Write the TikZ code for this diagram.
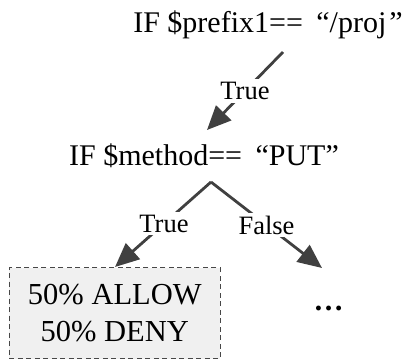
\documentclass[tikz,border=0pt]{standalone}
\usepackage{fontspec}
\setmainfont{Liberation Serif}
\usetikzlibrary{arrows.meta}
\begin{document}
\begin{tikzpicture}[x=1pt,y=-1pt,
  cond/.style={inner sep=0pt, anchor=base, font=\fontsize{30}{36}\selectfont},
  lbl/.style={inner sep=3pt, fill=white, font=\fontsize{26.5}{30}\selectfont},
  branch/.style={draw=black!75, line width=2.8pt},
  arr/.style={branch, -{Triangle[length=24pt,width=21pt]}},
  leaf/.style={draw=black!72, dash pattern=on 5pt off 3.5pt, line width=1pt,
    fill=black!6, minimum width=211pt, minimum height=91pt, align=center,
    font=\fontsize{30.5}{37}\selectfont}]
\useasboundingbox (0,0) rectangle (410,360);
% condition nodes
\node[cond] (c1) at (268,32) {IF \$prefix1==\hspace{0.45em}“/proj\hspace{0.1em}”};
\node[cond] (c2) at (204,165) {IF \$method==\hspace{0.45em}“PUT”};
% leaves
\node[leaf] (l1) at (114.8,313) {50\% ALLOW\\50\% DENY};
\node[inner sep=0pt, anchor=base, font=\bfseries\fontsize{30}{32}\selectfont] (l2) at (328.5,310) {\dots};
% anchor points for the branches
\coordinate (a1) at (283,52);
\coordinate (t1) at (207,130);
\coordinate (a2) at (211,182);
\coordinate (t2) at (115,267);
\coordinate (t3) at (322,268);
% branches
\draw[arr] (a1) -- node[lbl] (tr1) {True} (t1);
\draw[arr] (a2) -- node[lbl, pos=0.49] (tr2) {True} (t2);
\draw[arr] (a2) -- node[lbl, pos=0.5] (fa2) {False} (t3);
\end{tikzpicture}
\end{document}
